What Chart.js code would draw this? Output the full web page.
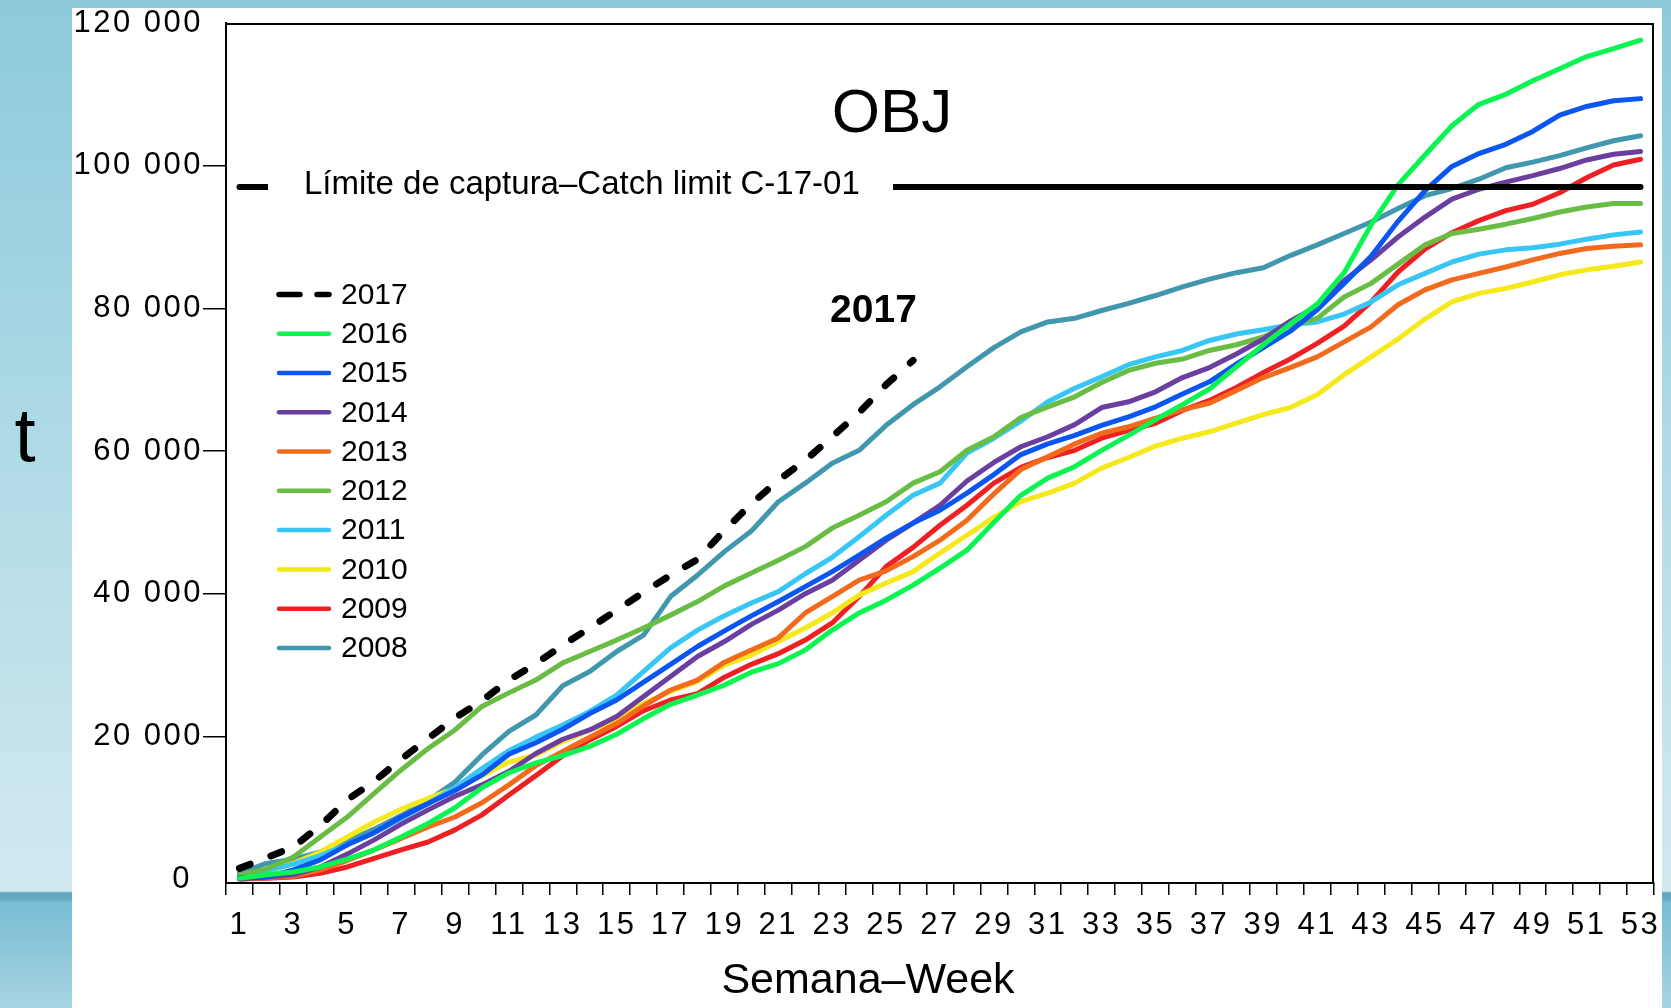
<!DOCTYPE html>
<html>
<head>
<meta charset="utf-8">
<script src="https://cdn.jsdelivr.net/npm/chart.js@4.4.1/dist/chart.umd.min.js"></script>
<style>
html,body{margin:0;padding:0;background:#fff;overflow:hidden}
#wrap{position:relative;width:1671px;height:1008px}
canvas{display:block}
</style>
</head>
<body>
<div id="wrap"><canvas id="c" width="1671" height="1008"></canvas></div>
<script>
// ---------- data ----------
const weeks = ["1","2","3","4","5","6","7","8","9","10","11","12","13","14","15","16","17","18","19","20",
  "21","22","23","24","25","26","27","28","29","30","31","32","33","34","35","36","37","38","39","40",
  "41","42","43","44","45","46","47","48","49","50","51","52","53"];
const yTicks = [0, 20000, 40000, 60000, 80000, 100000, 120000];
const catchLimit = 97000;
const catchLabel = "Límite de captura–Catch limit C-17-01";

const years = ["2017","2016","2015","2014","2013","2012","2011","2010","2009","2008"];
const colors = ["#000000","#0af552","#0b55f0","#6b3fa0","#f26b1d","#69bd45","#38c6f4","#f5e81b","#ee2024","#4097ae"];

const s2017 = [1500,3000,4500,7500,11100,13700,16800,19700,22600,25000,27900,30200,32800,35200,37700,40200,42600,44800,48900,52600,55900,58700,62000,65400,69300,72700];
const s2016 = [100,600,1000,1700,2800,4100,5900,7800,10000,12800,14900,16300,17300,18600,20300,22500,24500,25800,27200,29000,30200,32100,34900,37300,39100,41200,43600,46100,50000,53800,56200,57800,60100,62200,64400,66500,68700,71800,74900,77800,80600,85000,91700,97300,101500,105600,108600,110000,111900,113600,115300,116400,117600];
const s2015 = [200,300,1300,2700,4800,6500,8700,10600,12400,14600,17500,19100,21000,23200,25100,27600,30100,32600,34800,36900,38900,41000,43100,45400,47800,49900,51700,54100,56700,59500,61000,62200,63600,64800,66200,68000,69700,72200,74500,76800,79800,83500,87300,92200,96500,99900,101700,103000,104800,107100,108300,109100,109400];
const s2014 = [0,300,600,1700,3500,5500,7700,9700,11600,13200,15100,17600,19600,20900,22800,25600,28400,31200,33300,35700,37700,40000,41900,44700,47500,49900,52400,55800,58400,60600,62000,63700,66100,66900,68300,70300,71700,73600,75700,78200,80300,83900,86800,90000,92800,95300,96700,97700,98600,99600,100800,101600,102000];
const s2013 = [0,200,400,1300,2600,4100,5700,7300,8700,10700,13200,15900,17900,19900,21800,24300,26500,27900,30400,32100,33800,37300,39600,41900,43200,45200,47500,50300,54000,57400,59200,61000,62500,63400,64600,65800,66700,68500,70300,71700,73200,75300,77400,80500,82600,84000,84900,85800,86800,87700,88400,88700,88900];
const s2012 = [600,1400,3100,5900,8700,12000,15300,18300,20900,24200,26100,27900,30300,31900,33500,35200,37000,38900,41100,42900,44700,46600,49200,51000,52900,55500,57100,60100,62000,64700,66200,67600,69600,71300,72300,72900,74100,74900,76000,77600,78600,81600,83500,86200,88900,90500,91100,91800,92600,93500,94200,94700,94700];
const s2011 = [400,1200,2100,3300,4800,6500,8500,10600,12800,15500,18000,19900,21600,23500,25800,29100,32400,34900,36900,38700,40300,42800,45100,48000,51000,53800,55500,59700,61800,64200,66900,68800,70400,72100,73200,74100,75500,76400,77000,77700,78100,79200,80900,83300,84900,86500,87600,88200,88500,89000,89700,90300,90700];
const s2010 = [400,1000,2200,3800,5900,8000,9800,11300,12700,14500,16400,17400,19300,20900,22200,24600,26300,27700,30000,31400,33300,35200,37300,39800,41500,43100,45700,48200,50700,52900,54100,55500,57600,59100,60700,61800,62700,63900,65100,66100,67900,70700,73200,75700,78500,80900,82100,82800,83700,84700,85400,85900,86500];
const s2009 = [0,100,300,800,1700,2900,4100,5200,6900,9000,11800,14500,17300,19500,21400,23600,25100,26000,28300,30100,31600,33500,35900,39600,43800,46500,49600,52400,55500,57700,59100,60100,61800,62900,63900,65700,67100,68900,71000,72900,75100,77500,80900,85100,88300,90600,92300,93700,94600,96200,98300,100100,100900];
const s2008 = [800,2200,2800,3800,5300,7000,8900,11000,13600,17400,20700,23000,27100,29100,31900,34200,39600,42600,45900,48800,52900,55500,58300,60100,63600,66500,69000,71800,74500,76700,78100,78600,79700,80700,81800,83000,84100,85000,85700,87400,88900,90500,92100,94000,95800,96800,98100,99700,100500,101400,102500,103500,104200];
const series = [s2017,s2016,s2015,s2014,s2013,s2012,s2011,s2010,s2009,s2008];

// ---------- chart ----------
const FONT = '"Liberation Sans", Arial, Helvetica, sans-serif';
Chart.defaults.font.family = FONT;
Chart.defaults.color = '#000';

const datasets = [{
  label: catchLabel,
  data: weeks.map(() => catchLimit),
  borderColor: '#000',
  borderWidth: 6,
  borderCapStyle: 'round',
  pointRadius: 0,
  isLimit: true
}];
years.forEach((y, i) => {
  datasets.push({
    label: y,
    data: series[i],
    borderColor: colors[i],
    borderWidth: i === 0 ? 7 : 5,
    borderDash: i === 0 ? [11.5, 22.3] : [],
    borderCapStyle: 'round',
    borderJoinStyle: 'round',
    pointRadius: 0,
    tension: 0
  });
});

function fmtY(v) {
  if (v === 0) return '0 ';
  return String(v / 1000) + ' 000';
}

const bgPlugin = {
  id: 'bg',
  beforeDraw(chart) {
    const c = chart.ctx, W = chart.width, H = chart.height;
    c.save();
    const g = c.createLinearGradient(0, 0, 0, H);
    g.addColorStop(0, '#8ccadc');
    g.addColorStop(0.45, '#b0dae6');
    g.addColorStop(0.884, '#d2e9f0');
    g.addColorStop(0.886, '#5fa2ba');
    g.addColorStop(0.893, '#68aec6');
    g.addColorStop(0.895, '#78bcd3');
    g.addColorStop(1, '#a8d4e2');
    c.fillStyle = g;
    c.fillRect(0, 0, W, H);
    c.fillStyle = '#8dc9db';
    c.fillRect(0, 0, W, 8);
    c.fillStyle = '#ffffff';
    c.fillRect(72, 8, 1590, H - 8);
    c.restore();
    // slightly wider tick labels, as in the reference
    c.letterSpacing = '2.5px';
  },
  beforeDatasetsDraw(chart) {
    chart.ctx.letterSpacing = '0px';
  }
};

const annoPlugin = {
  id: 'anno',
  afterDatasetsDraw(chart) {
    const c = chart.ctx, ys = chart.scales.y;
    c.save();
    const yl = ys.getPixelForValue(catchLimit);
    c.fillStyle = '#fff';
    c.fillRect(268, yl - 9, 625, 18);
    c.fillStyle = '#000';
    c.font = '33px ' + FONT;
    c.textAlign = 'left';
    c.textBaseline = 'alphabetic';
    c.fillText(chart.data.datasets[0].label, 304, yl + 6.5);
    c.restore();
  },
  afterDraw(chart) {
    const c = chart.ctx, ca = chart.chartArea;
    c.save();
    c.letterSpacing = '0px';
    // plot frame (top and right)
    c.strokeStyle = '#000';
    c.lineWidth = 2;
    c.beginPath();
    c.moveTo(ca.left, ca.top + 1);
    c.lineTo(ca.right - 1, ca.top + 1);
    c.lineTo(ca.right - 1, ca.bottom);
    c.stroke();

    // legend
    const ds = chart.data.datasets.filter(d => !d.isLimit);
    ds.forEach((d, i) => {
      const y = 294.5 + i * 39.27;
      c.beginPath();
      c.strokeStyle = d.borderColor;
      c.lineCap = 'round';
      if (d.borderDash && d.borderDash.length) {
        c.lineWidth = 5.5;
        c.setLineDash([21, 17]);
      } else {
        c.lineWidth = 4.5;
        c.setLineDash([]);
      }
      c.moveTo(279, y);
      c.lineTo(329, y);
      c.stroke();
      c.setLineDash([]);
      c.fillStyle = '#000';
      c.font = '30px ' + FONT;
      c.textAlign = 'left';
      c.textBaseline = 'middle';
      c.fillText(d.label, 341, y + 1);
    });

    c.fillStyle = '#000';
    c.textBaseline = 'alphabetic';
    c.textAlign = 'center';
    c.font = '62px ' + FONT;
    c.fillText('OBJ', 892, 132);
    c.font = 'bold 39px ' + FONT;
    c.fillText('2017', 873.5, 322);
    c.font = '43px ' + FONT;
    c.fillText('Semana–Week', 868, 993);
    c.font = '76px ' + FONT;
    c.fillText('t', 25, 461);
    c.restore();
  }
};

new Chart(document.getElementById('c'), {
  type: 'line',
  data: { labels: weeks, datasets: datasets },
  options: {
    responsive: false,
    animation: false,
    devicePixelRatio: 1,
    layout: { padding: { left: 0, right: 17, top: 23, bottom: 0 } },
    plugins: { legend: { display: false }, tooltip: { enabled: false } },
    elements: { point: { radius: 0 }, line: { tension: 0 } },
    scales: {
      x: {
        type: 'category',
        offset: true,
        grid: { offset: true, drawOnChartArea: false, drawTicks: true, tickLength: 12, color: '#000', lineWidth: 1.5 },
        border: { color: '#000', width: 2 },
        ticks: {
          autoSkip: false, maxRotation: 0, minRotation: 0, padding: 12, color: '#000',
          font: { family: FONT, size: 31 },
          callback: function (v, i) { return i % 2 === 0 ? this.getLabelForValue(v) : ''; }
        },
        afterFit(s) { s.height = 125; }
      },
      y: {
        min: -550,
        max: 120000,
        afterBuildTicks(s) { s.ticks = yTicks.map(v => ({ value: v })); },
        grid: {
          drawOnChartArea: false, tickLength: 23, color: '#000', lineWidth: 1.5,
          tickColor: (ctx) => (ctx.tick && (ctx.tick.value === 0 || ctx.tick.value === 120000)) ? 'rgba(0,0,0,0)' : '#000'
        },
        border: { color: '#000', width: 2 },
        ticks: { padding: 0, color: '#000', font: { family: FONT, size: 31 }, callback: (v) => fmtY(v) },
        afterFit(s) { s.width = 226; }
      }
    }
  },
  plugins: [bgPlugin, annoPlugin]
});
</script>
</body>
</html>
